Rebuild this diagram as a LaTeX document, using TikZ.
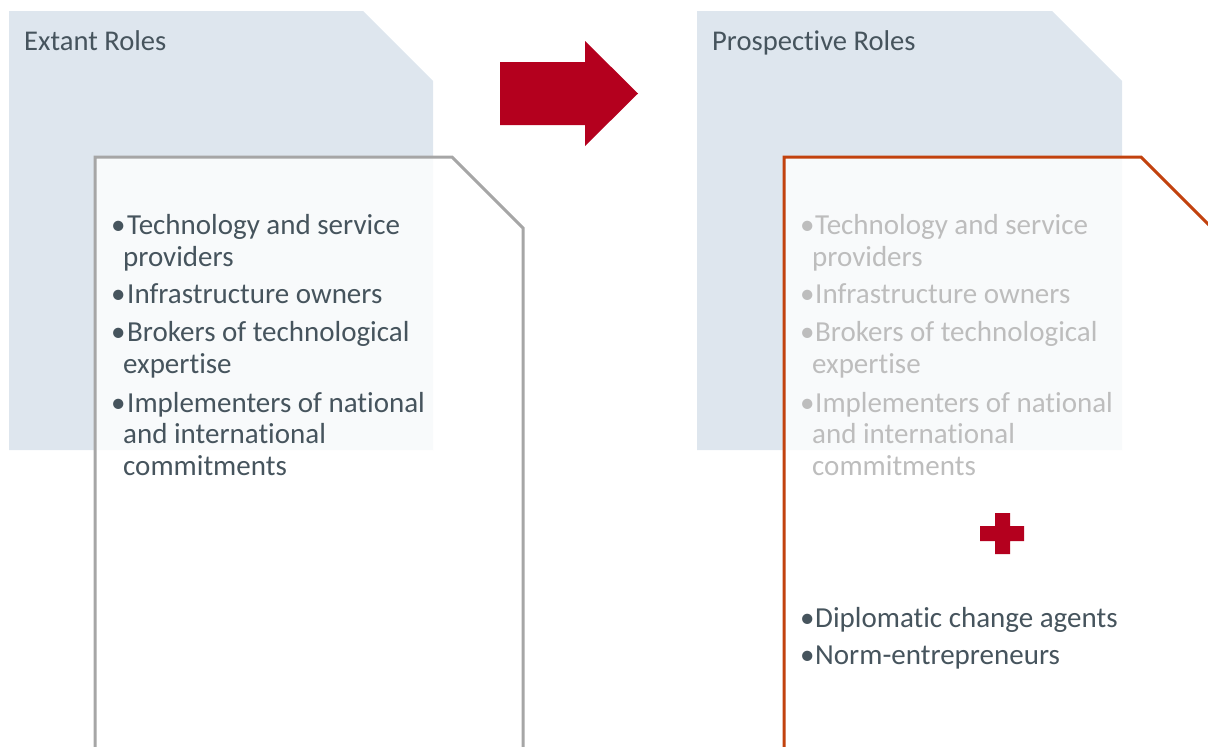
\documentclass[tikz,border=0pt]{standalone}
\usepackage{fontspec}
\setmainfont[Ligatures=NoCommon]{Carlito}
\definecolor{panelblue}{HTML}{DEE6EE}
\definecolor{cardgray}{HTML}{A6A6A6}
\definecolor{cardorange}{HTML}{C2420E}
\definecolor{accentred}{HTML}{B4001E}
\definecolor{ink}{HTML}{46545D}
\definecolor{faded}{HTML}{BDBDBD}
\begin{document}
\begin{tikzpicture}[x=1pt,y=-1pt,
  panel/.style={fill=panelblue,draw=none},
  card/.style={fill=white,fill opacity=0.8,line width=3pt,line join=miter},
  heading/.style={anchor=base west,inner sep=0pt,font=\fontsize{28.6}{34}\selectfont,text=ink},
  entry/.style={anchor=base west,inner sep=0pt,font=\fontsize{29}{33}\selectfont,text=ink},
  dot/.style={entry},
  oldentry/.style={entry,text=faded},
  olddot/.style={entry,text=faded},
  accent/.style={fill=accentred,draw=none}]
\useasboundingbox (0,0) rectangle (1208,747);
\clip (0,0) rectangle (1208,747);

% background panels with a snipped corner
\path[panel] (9,11) -- (363,11) -- (433,81) -- (433,450) -- (9,450) -- cycle;
\path[panel] (697,11) -- (1052,11) -- (1122,81) -- (1122,450) -- (697,450) -- cycle;

% cards laid over the panels
\draw[card,draw=cardgray] (95,157) -- (452,157) -- (523,228) -- (523,760) -- (95,760) -- cycle;
\draw[card,draw=cardorange] (784,157) -- (1141,157) -- (1212,228) -- (1212,760) -- (784,760) -- cycle;

% headings
\node[heading] (h1) at (24,50) {Extant Roles};
\node[heading] (h2) at (712,50) {Prospective Roles};

% transition arrow
\path[accent] (500,62) -- (585,62) -- (585,41) -- (638,93.5) -- (585,146) -- (585,125) -- (500,125) -- cycle;

% extant roles list
\node[dot] (b1) at (111,234) {•};
\node[entry] (l1a) at (127,234) {Technology and service};
\node[entry] (l1b) at (123,266) {providers};
\node[dot] (b2) at (111,303) {•};
\node[entry] (l2a) at (127,303) {Infrastructure owners};
\node[dot] (b3) at (111,341) {•};
\node[entry] (l3a) at (127,341) {Brokers of technological};
\node[entry] (l3b) at (123,373) {expertise};
\node[dot] (b4) at (111,412) {•};
\node[entry] (l4a) at (127,412) {Implementers of national};
\node[entry] (l4b) at (123,443) {and international};
\node[entry] (l4c) at (123,475) {commitments};

% prospective roles: carried-over list
\node[olddot] (c1) at (800,234) {•};
\node[oldentry] (m1a) at (815,234) {Technology and service};
\node[oldentry] (m1b) at (812,266) {providers};
\node[olddot] (c2) at (800,303) {•};
\node[oldentry] (m2a) at (815,303) {Infrastructure owners};
\node[olddot] (c3) at (800,341) {•};
\node[oldentry] (m3a) at (815,341) {Brokers of technological};
\node[oldentry] (m3b) at (812,373) {expertise};
\node[olddot] (c4) at (800,412) {•};
\node[oldentry] (m4a) at (815,412) {Implementers of national};
\node[oldentry] (m4b) at (812,443) {and international};
\node[oldentry] (m4c) at (812,475) {commitments};

% plus sign
\path[accent] (995,513) -- (1010,513) -- (1010,526) -- (1024,526) -- (1024,541)
  -- (1010,541) -- (1010,554) -- (995,554) -- (995,541) -- (980,541)
  -- (980,526) -- (995,526) -- cycle;

% new roles
\node[dot] (c5) at (800,627) {•};
\node[entry] (m5a) at (815,627) {Diplomatic change agents};
\node[dot] (c6) at (800,664) {•};
\node[entry] (m6a) at (815,664) {Norm-entrepreneurs};
\end{tikzpicture}
\end{document}
